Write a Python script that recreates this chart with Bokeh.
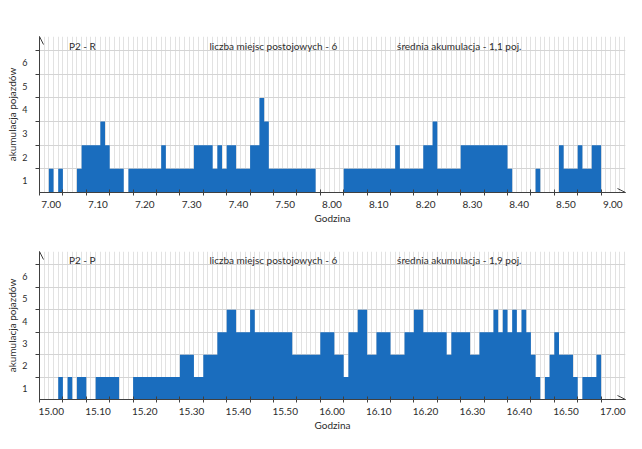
from bokeh.plotting import figure
from bokeh.layouts import column
from bokeh.models import FixedTicker, Arrow, OpenHead, Label
from bokeh.embed import file_html
from bokeh.resources import INLINE

# ---- data: parking accumulation steps (minutes after the first hour mark) ----
r_start = [2, 4, 8, 9, 13, 14, 15, 19, 26, 27, 33, 37, 38, 39, 40, 42, 45, 47, 48, 49,
           65, 76, 77, 82, 84, 85, 90, 100, 106, 111, 112, 115, 116, 118]
r_end = [3, 5, 9, 13, 14, 15, 18, 26, 27, 33, 37, 38, 39, 40, 42, 45, 47, 48, 49, 59,
         76, 77, 82, 84, 85, 90, 100, 101, 107, 112, 115, 116, 118, 120]
r_level = [1, 1, 1, 2, 3, 2, 1, 1, 2, 1, 2, 1, 2, 1, 2, 1, 2, 4, 3, 1,
           1, 2, 1, 2, 3, 1, 2, 1, 1, 2, 1, 2, 1, 2]

p_start = [4, 6, 8, 12, 20, 30, 33, 35, 38, 40, 42, 45, 46, 54, 60, 63, 65, 66, 68, 70,
           72, 75, 78, 80, 82, 87, 88, 92, 94, 97, 98, 99, 100, 101, 102, 103, 104, 105, 106, 108,
           109, 110, 111, 114, 116, 119]
p_end = [5, 7, 10, 17, 30, 33, 35, 38, 40, 42, 45, 46, 54, 60, 63, 65, 66, 68, 70, 72,
         75, 78, 80, 82, 87, 88, 92, 94, 97, 98, 99, 100, 101, 102, 103, 104, 105, 106, 107, 109,
         110, 111, 114, 115, 119, 120]
p_level = [1, 1, 1, 1, 1, 2, 1, 2, 3, 4, 3, 4, 3, 2, 3, 2, 1, 3, 4, 2,
           3, 2, 3, 4, 3, 2, 3, 2, 3, 4, 3, 4, 3, 4, 3, 4, 3, 2, 1, 1,
           2, 3, 2, 1, 1, 2]

r_tick_labels = ["7.00", "7.10", "7.20", "7.30", "7.40", "7.50", "8.00",
                 "8.10", "8.20", "8.30", "8.40", "8.50", "9.00"]
p_tick_labels = ["15.00", "15.10", "15.20", "15.30", "15.40", "15.50", "16.00",
                 "16.10", "16.20", "16.30", "16.40", "16.50", "17.00"]
y_tick_labels = ["1", "2", "3", "4", "5", "6"]

r_titles = ["P2 - R", "liczba miejsc postojowych - 6", "średnia akumulacja - 1,1 poj."]
p_titles = ["P2 - P", "liczba miejsc postojowych - 6", "średnia akumulacja - 1,9 poj."]

x_title = "Godzina"
y_title = "akumulacja pojazdów"

BLUE = "#1a6dbe"
AX = "#404040"
TXT = "#2b2b2b"
FONT = "Lato"
LEFT = 39
FRAME_W = 586
X_END = FRAME_W / 4.68
Y_END = 6.6


def step_polygon(starts, ends, levels):
    xs, ys = [starts[0]], [0]
    for i in range(len(starts)):
        xs += [starts[i], ends[i]]
        ys += [levels[i], levels[i]]
        if i + 1 < len(starts) and starts[i + 1] != ends[i]:
            xs += [ends[i], starts[i + 1]]
            ys += [0, 0]
    xs.append(ends[-1])
    ys.append(0)
    return xs, ys


def make_panel(starts, ends, levels, tick_labels, titles, height, b_top, b_bottom):
    p = figure(width=LEFT + FRAME_W + 1, height=height, x_range=(0, X_END), y_range=(0, Y_END),
               output_backend="svg", toolbar_location=None,
               min_border_left=LEFT, min_border_right=1,
               min_border_top=b_top, min_border_bottom=b_bottom)
    p.title.visible = False
    p.outline_line_color = None
    p.background_fill_color = "white"
    p.border_fill_color = "white"

    # grid
    p.xgrid.ticker = FixedTicker(ticks=list(range(0, 126)))
    p.xgrid.grid_line_color = "#e2e2e2"
    p.ygrid.ticker = FixedTicker(ticks=[1, 2, 3, 4, 5, 6])
    p.ygrid.grid_line_color = "#d4d4d4"

    xs, ys = step_polygon(starts, ends, levels)
    p.patch(xs, ys, fill_color=BLUE, line_color=None)

    # x axis: labels left-aligned after each 10-minute tick
    n = len(tick_labels)
    lab_pos = [10 * i + 2.5 for i in range(n)]
    xa = p.xaxis[0]
    xa.ticker = FixedTicker(ticks=lab_pos, minor_ticks=list(range(0, 121, 5)))
    xa.major_label_overrides = {lab_pos[i]: tick_labels[i] for i in range(n)}
    xa.major_tick_in = 0
    xa.major_tick_out = 0
    xa.minor_tick_in = 3
    xa.minor_tick_out = 3
    xa.minor_tick_line_color = AX
    xa.axis_line_color = AX
    xa.major_label_standoff = 5
    xa.major_label_text_font = FONT
    xa.major_label_text_font_size = "10px"
    xa.major_label_text_color = TXT
    xa.axis_label = x_title
    xa.axis_label_text_font = FONT
    xa.axis_label_text_font_size = "10px"
    xa.axis_label_text_font_style = "normal"
    xa.axis_label_text_color = TXT
    xa.axis_label_standoff = 1

    # y axis: labels centred between the integer ticks
    ya = p.yaxis[0]
    ypos = [i + 0.5 for i in range(len(y_tick_labels))]
    ya.ticker = FixedTicker(ticks=ypos, minor_ticks=[1, 2, 3, 4, 5, 6])
    ya.major_label_overrides = {ypos[i]: y_tick_labels[i] for i in range(len(ypos))}
    ya.major_tick_in = 0
    ya.major_tick_out = 0
    ya.minor_tick_in = 0
    ya.minor_tick_out = 4
    ya.minor_tick_line_color = AX
    ya.axis_line_color = AX
    ya.major_label_standoff = 8
    ya.major_label_text_font = FONT
    ya.major_label_text_font_size = "9px"
    ya.major_label_text_color = TXT
    ya.axis_label = y_title
    ya.axis_label_text_font = FONT
    ya.axis_label_text_font_size = "10px"
    ya.axis_label_text_font_style = "normal"
    ya.axis_label_text_color = TXT
    ya.axis_label_standoff = 1

    # arrows
    p.add_layout(Arrow(end=OpenHead(size=8, line_color=AX, line_width=1),
                       x_start=0, y_start=6.0, x_end=0, y_end=Y_END,
                       line_color=AX, line_width=1))
    p.add_layout(Arrow(end=OpenHead(size=8, line_color=AX, line_width=1),
                       x_start=118, y_start=0, x_end=X_END, y_end=0,
                       line_color=AX, line_width=1))

    # header texts
    for xx, t in zip([6.3, 36.3, 76.4], titles):
        p.add_layout(Label(x=xx, y=6.2, text=t, text_font=FONT, text_font_size="10px",
                           text_color=TXT, text_baseline="middle", text_align="left"))
    return p


top = make_panel(r_start, r_end, r_level, r_tick_labels, r_titles, 226, 36, 30)
bottom = make_panel(p_start, p_end, p_level, p_tick_labels, p_titles, 207, 25, 28)

layout = column(top, bottom, spacing=0)
open("out.html", "w").write(file_html(layout, INLINE))
